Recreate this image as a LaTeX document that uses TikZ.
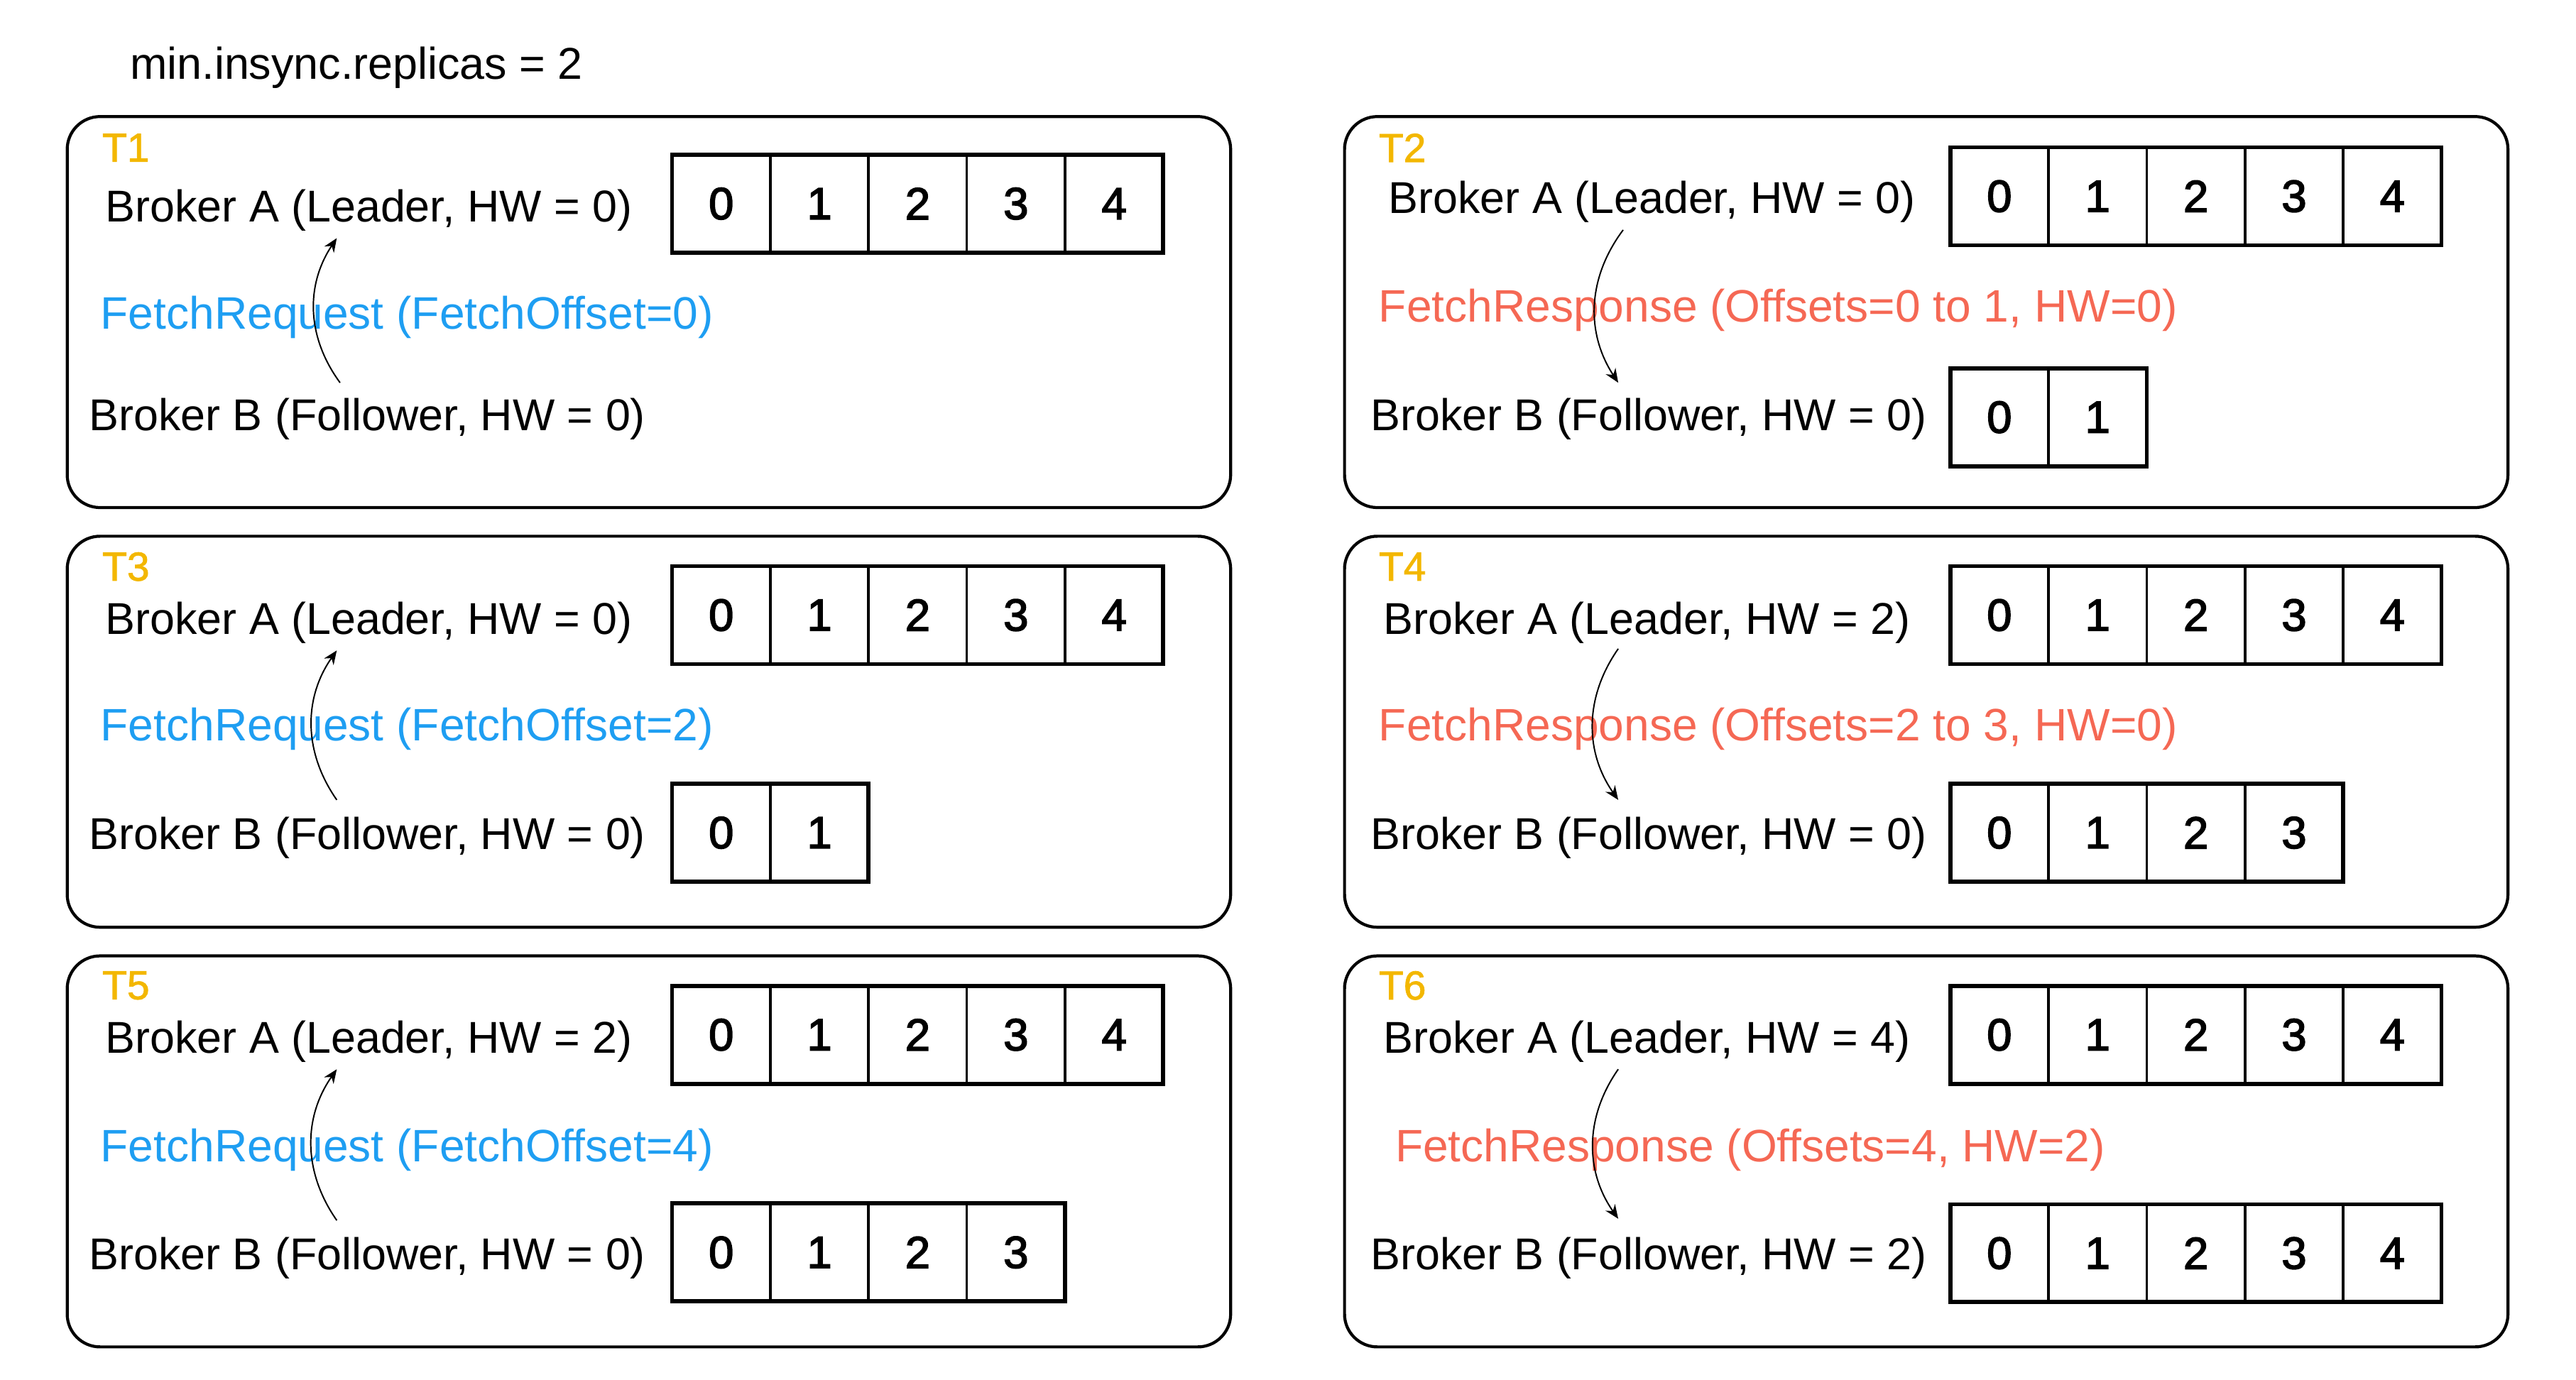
\documentclass[tikz,border=0pt]{standalone}
\usepackage{fontspec}
\setmainfont{Liberation Sans}
\newfontfamily\cellfont[FakeBold=2.5]{Liberation Sans}
\newfontfamily\tagfont[FakeBold=1.5]{Liberation Sans}
\usetikzlibrary{arrows.meta}
\definecolor{tagyellow}{RGB}{243,183,0}
\definecolor{reqblue}{RGB}{30,158,242}
\definecolor{resred}{RGB}{245,104,84}

\begin{document}
\begin{tikzpicture}[x=0.025cm, y=-0.025cm]
    % Define styles
    \tikzstyle{panel} = [draw, line width=1.3pt, rounded corners=0.5cm, minimum width=17.7cm, minimum height=5.95cm]
    \tikzstyle{txt} = [anchor=west, inner sep=0, font=\fontsize{19.3}{23}\selectfont]
    \tikzstyle{tag} = [anchor=west, inner sep=0, text=tagyellow, font=\tagfont\fontsize{17.5}{21}\selectfont]
    \tikzstyle{req} = [txt, text=reqblue, font=\fontsize{19.7}{23}\selectfont]
    \tikzstyle{res} = [txt, text=resred, font=\fontsize{19.7}{23}\selectfont]
    \tikzstyle{cell} = [draw, line width=1.1pt, minimum width=1.495cm, minimum height=1.49cm, inner sep=0, outer sep=0, font=\cellfont\fontsize{19.5}{23}\selectfont]
    \tikzstyle{frame} = [line width=1.8pt]
    \tikzstyle{msg} = [-{Stealth[length=6pt, width=5pt]}, line width=0.6pt]

    \useasboundingbox (0,0) rectangle (1568,840);

    \node[txt] (title) at (79,41) {min.insync.replicas = 2};

    % Panels
    \node[panel] (p1) at (395,190) {};
    \node[panel] (p2) at (1172.5,190) {};
    \node[panel] (p3) at (395,445.5) {};
    \node[panel] (p4) at (1172.5,445.5) {};
    \node[panel] (p5) at (395,701) {};
    \node[panel] (p6) at (1172.5,701) {};

    % Time labels
    \node[tag] (t1) at (62,90) {T1};
    \node[tag] (t2) at (839,90) {T2};
    \node[tag] (t3) at (62,345) {T3};
    \node[tag] (t4) at (839,345) {T4};
    \node[tag] (t5) at (62,600) {T5};
    \node[tag] (t6) at (839,600) {T6};

    % Brokers
    \node[txt] (a1) at (64,128) {Broker A (Leader, HW = 0)};
    \node[txt] (b1) at (54,255) {Broker B (Follower, HW = 0)};
    \node[txt] (a2) at (845,123) {Broker A (Leader, HW = 0)};
    \node[txt] (b2) at (834,255) {Broker B (Follower, HW = 0)};
    \node[txt] (a3) at (64,379) {Broker A (Leader, HW = 0)};
    \node[txt] (b3) at (54,510) {Broker B (Follower, HW = 0)};
    \node[txt] (a4) at (842,379) {Broker A (Leader, HW = 2)};
    \node[txt] (b4) at (834,510) {Broker B (Follower, HW = 0)};
    \node[txt] (a5) at (64,634) {Broker A (Leader, HW = 2)};
    \node[txt] (b5) at (54,766) {Broker B (Follower, HW = 0)};
    \node[txt] (a6) at (842,634) {Broker A (Leader, HW = 4)};
    \node[txt] (b6) at (834,766) {Broker B (Follower, HW = 2)};

    % Logs
    \foreach \n/\x/\y/\k in {la1/439/124/4, la2/1217/119.5/4, lb2/1217/254/1,
                            la3/439/374.5/4, lb3/439/507/1, la4/1217/374.5/4, lb4/1217/507/3,
                            la5/439/630/4, lb5/439/762.5/3, la6/1217/630/4, lb6/1217/763/4} {
        \foreach \i in {0,...,\k}
            \node[cell] (\n-\i) at (\x+59.8*\i,\y) {\i};
        \draw[frame] (\n-0.north west) rectangle (\n-\k.south east);
    }

    % Messages
    \node[req] (m1) at (61,193) {FetchRequest (FetchOffset=0)};
    \node[res] (m2) at (839,189) {FetchResponse (Offsets=0 to 1, HW=0)};
    \node[req] (m3) at (61,444) {FetchRequest (FetchOffset=2)};
    \node[res] (m4) at (839,444) {FetchResponse (Offsets=2 to 3, HW=0)};
    \node[req] (m5) at (61,700) {FetchRequest (FetchOffset=4)};
    \node[res] (m6) at (849,700) {FetchResponse (Offsets=4, HW=2)};

    % Arrows
    \coordinate (s1) at (207,233); \coordinate (e1) at (205,145);
    \coordinate (s2) at (988,140); \coordinate (e2) at (985,233);
    \coordinate (s3) at (205,487); \coordinate (e3) at (205,396);
    \coordinate (s4) at (985,395); \coordinate (e4) at (985,487);
    \coordinate (s5) at (205,743); \coordinate (e5) at (205,651);
    \coordinate (s6) at (985,651); \coordinate (e6) at (985,742);
    \draw[msg] (s1) to[bend left=35] (e1);
    \draw[msg] (s2) to[bend right=35] (e2);
    \draw[msg] (s3) to[bend left=35] (e3);
    \draw[msg] (s4) to[bend right=35] (e4);
    \draw[msg] (s5) to[bend left=35] (e5);
    \draw[msg] (s6) to[bend right=35] (e6);
\end{tikzpicture}
\end{document}
